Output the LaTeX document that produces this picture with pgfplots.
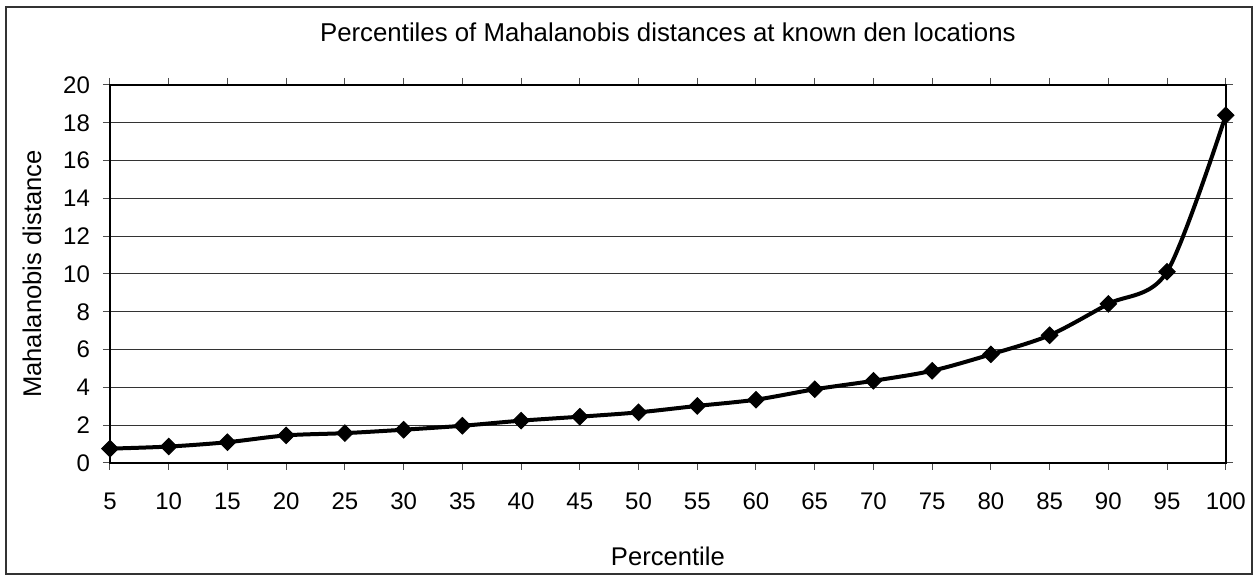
\documentclass[border=0pt]{standalone}
\usepackage{fontspec}
\setmainfont{Liberation Sans}
\usepackage{pgfplots}
\pgfplotsset{compat=1.18}
\begin{document}
\begin{tikzpicture}
\useasboundingbox (-55pt,-56.5pt) rectangle (573.5pt,231.5pt);
\draw[black!80, line width=0.6pt] (-52pt,-55.5pt) rectangle (571pt,228pt);
\begin{axis}[
  at={(0pt,0pt)}, anchor=south west,
  scale only axis, width=557.9pt, height=189pt,
  xmin=5, xmax=100, ymin=0, ymax=20,
  xtick={5,10,...,100}, ytick={0,2,...,20},
  ymajorgrids, grid style={black!80, line width=0.5pt},
  axis line style={black, line width=1pt},
  tick align=outside, tick style={black!70, line width=0.5pt},
  major tick length=3.5pt,
  /pgf/number format/assume math mode=true,
  tick label style={font=\fontsize{12}{14}\selectfont},
  xticklabel style={yshift=-8pt},
  yticklabel style={xshift=-3pt},
  label style={font=\fontsize{12.8}{15}\selectfont},
  xlabel={Percentile},
  ylabel={Mahalanobis distance},
  xlabel style={at={(axis description cs:0.5,-0.246)}, anchor=center},
  ylabel style={at={(axis description cs:-0.0699,0.5)}, anchor=center},
  clip=false,
]
\addplot[black, line width=2pt, smooth, tension=0.5, mark=square*, mark size=2.9pt, mark options={rotate=45, solid, fill=black, line width=0.5pt}] coordinates {
(5,0.76) (10,0.87) (15,1.1) (20,1.46) (25,1.58) (30,1.76) (35,1.97) (40,2.24) (45,2.45) (50,2.68)
(55,3.02) (60,3.35) (65,3.9) (70,4.35) (75,4.88) (80,5.75) (85,6.76) (90,8.42) (95,10.12) (100,18.4)
};
\node[font=\fontsize{12.9}{15}\selectfont, anchor=base] at (axis description cs:0.5,1.114) {Percentiles of Mahalanobis distances at known den locations};
\end{axis}
\end{tikzpicture}
\end{document}
